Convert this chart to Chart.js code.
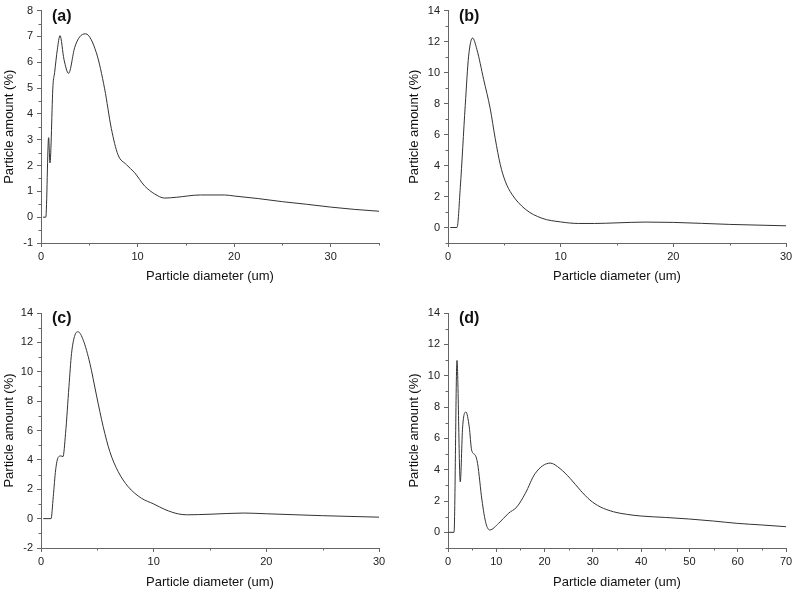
<!DOCTYPE html>
<html>
<head>
<meta charset="utf-8">
<script src="https://cdn.jsdelivr.net/npm/chart.js@4.4.1/dist/chart.umd.min.js"></script>
<style>
  html, body { margin: 0; padding: 0; background: #fff; overflow: hidden; width: 793px; height: 590px; }
  canvas { position: absolute; }
</style>
</head>
<body>
<canvas id="chart-a" width="400" height="290" style="left:0;top:0"></canvas>
<canvas id="chart-b" width="420" height="290" style="left:400px;top:0"></canvas>
<canvas id="chart-c" width="400" height="300" style="left:0;top:290px"></canvas>
<canvas id="chart-d" width="420" height="300" style="left:400px;top:290px"></canvas>
<script>
// panel (a)
const A_X = [0.2, 0.5, 0.79, 0.93, 1.24, 1.41, 1.69, 1.97, 2.38, 2.86, 3.48, 4.0, 4.62, 5.73, 6.59, 7.28, 7.97, 8.83, 9.7, 10.73, 11.77, 12.8, 14.0, 16.5, 19, 20, 22.5, 25, 27.5, 30, 32.5, 35];
const A_Y = [0, 0, 3.08, 2.1, 5.1, 5.6, 6.49, 7.03, 6.11, 5.57, 6.56, 6.98, 7.1, 6.37, 4.97, 3.44, 2.42, 2.04, 1.72, 1.21, 0.9, 0.74, 0.77, 0.86, 0.86, 0.82, 0.72, 0.6, 0.5, 0.39, 0.3, 0.23];
const A_XTICKS = [0, 10, 20, 30];
const A_XMINOR = [5, 15, 25, 35];
const A_YTICKS = [-1, 0, 1, 2, 3, 4, 5, 6, 7, 8];
const A_YMINOR = [-0.5, 0.5, 1.5, 2.5, 3.5, 4.5, 5.5, 6.5, 7.5];

// panel (b)
const B_X = [0.2, 0.8, 1.09, 1.53, 1.83, 2.18, 2.57, 3.16, 3.75, 4.19, 4.64, 5.08, 5.67, 6.85, 8.33, 10, 11.6, 13, 15, 17.5, 20, 25, 30];
const B_Y = [0, 0, 2.57, 7.88, 11.06, 12.23, 11.48, 9.57, 7.66, 5.75, 4.06, 2.99, 2.15, 1.19, 0.6, 0.36, 0.26, 0.26, 0.3, 0.35, 0.33, 0.2, 0.11];
const B_XTICKS = [0, 10, 20, 30];
const B_XMINOR = [5, 15, 25];
const B_YTICKS = [0, 2, 4, 6, 8, 10, 12, 14];
const B_YMINOR = [-1, 1, 3, 5, 7, 9, 11, 13];

// panel (c)
const C_X = [0.2, 0.89, 1.09, 1.3, 1.53, 1.77, 1.95, 2.18, 2.48, 2.71, 3.01, 3.3, 3.75, 4.34, 4.92, 5.52, 6.11, 6.85, 7.73, 8.91, 10, 11, 12.2, 13, 15, 18, 20, 25, 30];
const C_Y = [0, 0, 1.5, 3.32, 4.18, 4.27, 4.22, 5.8, 8.98, 11.24, 12.49, 12.72, 12.15, 10.57, 8.41, 6.26, 4.56, 3.2, 2.18, 1.39, 1.0, 0.62, 0.32, 0.26, 0.3, 0.38, 0.33, 0.2, 0.1];
const C_XTICKS = [0, 10, 20, 30];
const C_XMINOR = [5, 15, 25];
const C_YTICKS = [-2, 0, 2, 4, 6, 8, 10, 12, 14];
const C_YMINOR = [-1, 1, 3, 5, 7, 9, 11, 13];

// panel (d)
const D_X = [0.1, 1.25, 1.86, 2.54, 3.03, 3.72, 4.4, 4.9, 5.65, 6.13, 7.03, 7.86, 8.65, 10.47, 12.5, 14.28, 16.0, 18.06, 21.17, 23.2, 25.3, 27.4, 29.4, 31.5, 34.3, 37, 40, 45, 50, 55, 60, 65, 70];
const D_Y = [0, 0, 10.97, 3.22, 6.73, 7.68, 6.73, 5.24, 4.92, 4.39, 2.06, 0.57, 0.15, 0.57, 1.21, 1.63, 2.48, 3.76, 4.42, 4.07, 3.44, 2.69, 2.06, 1.63, 1.31, 1.15, 1.04, 0.95, 0.85, 0.72, 0.57, 0.47, 0.36];
const D_XTICKS = [0, 10, 20, 30, 40, 50, 60, 70];
const D_XMINOR = [5, 15, 25, 35, 45, 55, 65];
const D_YTICKS = [0, 2, 4, 6, 8, 10, 12, 14];
const D_YMINOR = [-1, 1, 3, 5, 7, 9, 11, 13];

const FONT = "'Liberation Sans', Arial, sans-serif";
const AXIS = '#666';

function extras(o) {
  return {
    id: 'extras',
    afterDraw(chart) {
      const c = chart.ctx;
      const a = chart.chartArea;
      const xs = chart.scales.x, ys = chart.scales.y;
      c.save();
      c.strokeStyle = AXIS;
      c.lineWidth = 1;
      c.beginPath();
      o.xMinor.forEach(v => {
        const px = Math.round(xs.getPixelForValue(v)) + 0.5;
        c.moveTo(px, a.bottom);
        c.lineTo(px, a.bottom + 2.5);
      });
      o.yMinor.forEach(v => {
        const py = Math.round(ys.getPixelForValue(v)) + 0.5;
        c.moveTo(a.left - 2.5, py);
        c.lineTo(a.left, py);
      });
      c.stroke();
      c.fillStyle = '#111';
      c.font = 'bold 16px ' + FONT;
      c.textBaseline = 'middle';
      c.fillText(o.label, a.left + 11, a.top + 6);
      c.restore();
    }
  };
}

function makeChart(id, xs, ys, o) {
  const ctx = document.getElementById(id).getContext('2d');
  return new Chart(ctx, {
    type: 'line',
    data: {
      datasets: [{
        data: xs.map((x, i) => ({ x, y: ys[i] })),
        borderColor: '#333',
        borderWidth: 1,
        pointRadius: 0,
        cubicInterpolationMode: 'monotone',
        fill: false
      }]
    },
    options: {
      responsive: false,
      animation: false,
      layout: { padding: o.pad },
      plugins: { legend: { display: false }, tooltip: { enabled: false } },
      scales: {
        x: {
          type: 'linear',
          min: 0,
          max: o.xMax,
          afterBuildTicks: s => { s.ticks = o.xTicks.map(v => ({ value: v })); },
          afterFit: s => { s.height = o.xH; },
          grid: { drawOnChartArea: false, drawTicks: true, tickLength: 4, color: AXIS },
          border: { display: true, color: AXIS, width: 1 },
          ticks: { color: '#222', padding: 3, maxRotation: 0, font: { family: FONT, size: 11 } },
          title: { display: true, text: 'Particle diameter (um)', color: '#111', padding: { top: 0, bottom: o.titlePad }, font: { family: FONT, size: 13 } }
        },
        y: {
          min: o.yMin,
          max: o.yMax,
          afterBuildTicks: s => { s.ticks = o.yTicks.map(v => ({ value: v })); },
          afterFit: s => { s.width = o.yW; },
          grid: { drawOnChartArea: false, drawTicks: true, tickLength: 4, color: AXIS },
          border: { display: true, color: AXIS, width: 1 },
          ticks: { color: '#222', padding: 4, font: { family: FONT, size: 11 } },
          title: { display: true, text: 'Particle amount (%)', color: '#111', padding: { top: 2, bottom: 0 }, font: { family: FONT, size: 13 } }
        }
      }
    },
    plugins: [extras(o)]
  });
}

const charts = {
  a: makeChart('chart-a', A_X, A_Y, {
    label: '(a)', xMax: 35, yMin: -1, yMax: 8,
    xTicks: A_XTICKS, xMinor: A_XMINOR, yTicks: A_YTICKS, yMinor: A_YMINOR,
    pad: { left: 0, top: 7, right: 21, bottom: 0 }, yW: 41, xH: 47, titlePad: 6
  }),
  b: makeChart('chart-b', B_X, B_Y, {
    label: '(b)', xMax: 30, yMin: -1, yMax: 14,
    xTicks: B_XTICKS, xMinor: B_XMINOR, yTicks: B_YTICKS, yMinor: B_YMINOR,
    pad: { left: 5, top: 7, right: 34, bottom: 0 }, yW: 43, xH: 47, titlePad: 6
  }),
  c: makeChart('chart-c', C_X, C_Y, {
    label: '(c)', xMax: 30, yMin: -2, yMax: 14,
    xTicks: C_XTICKS, xMinor: C_XMINOR, yTicks: C_YTICKS, yMinor: C_YMINOR,
    pad: { left: 0, top: 23, right: 21, bottom: 0 }, yW: 41, xH: 42, titlePad: 0
  }),
  d: makeChart('chart-d', D_X, D_Y, {
    label: '(d)', xMax: 70, yMin: -1, yMax: 14,
    xTicks: D_XTICKS, xMinor: D_XMINOR, yTicks: D_YTICKS, yMinor: D_YMINOR,
    pad: { left: 5, top: 23, right: 34, bottom: 0 }, yW: 43, xH: 42, titlePad: 0
  })
};
</script>
</body>
</html>
